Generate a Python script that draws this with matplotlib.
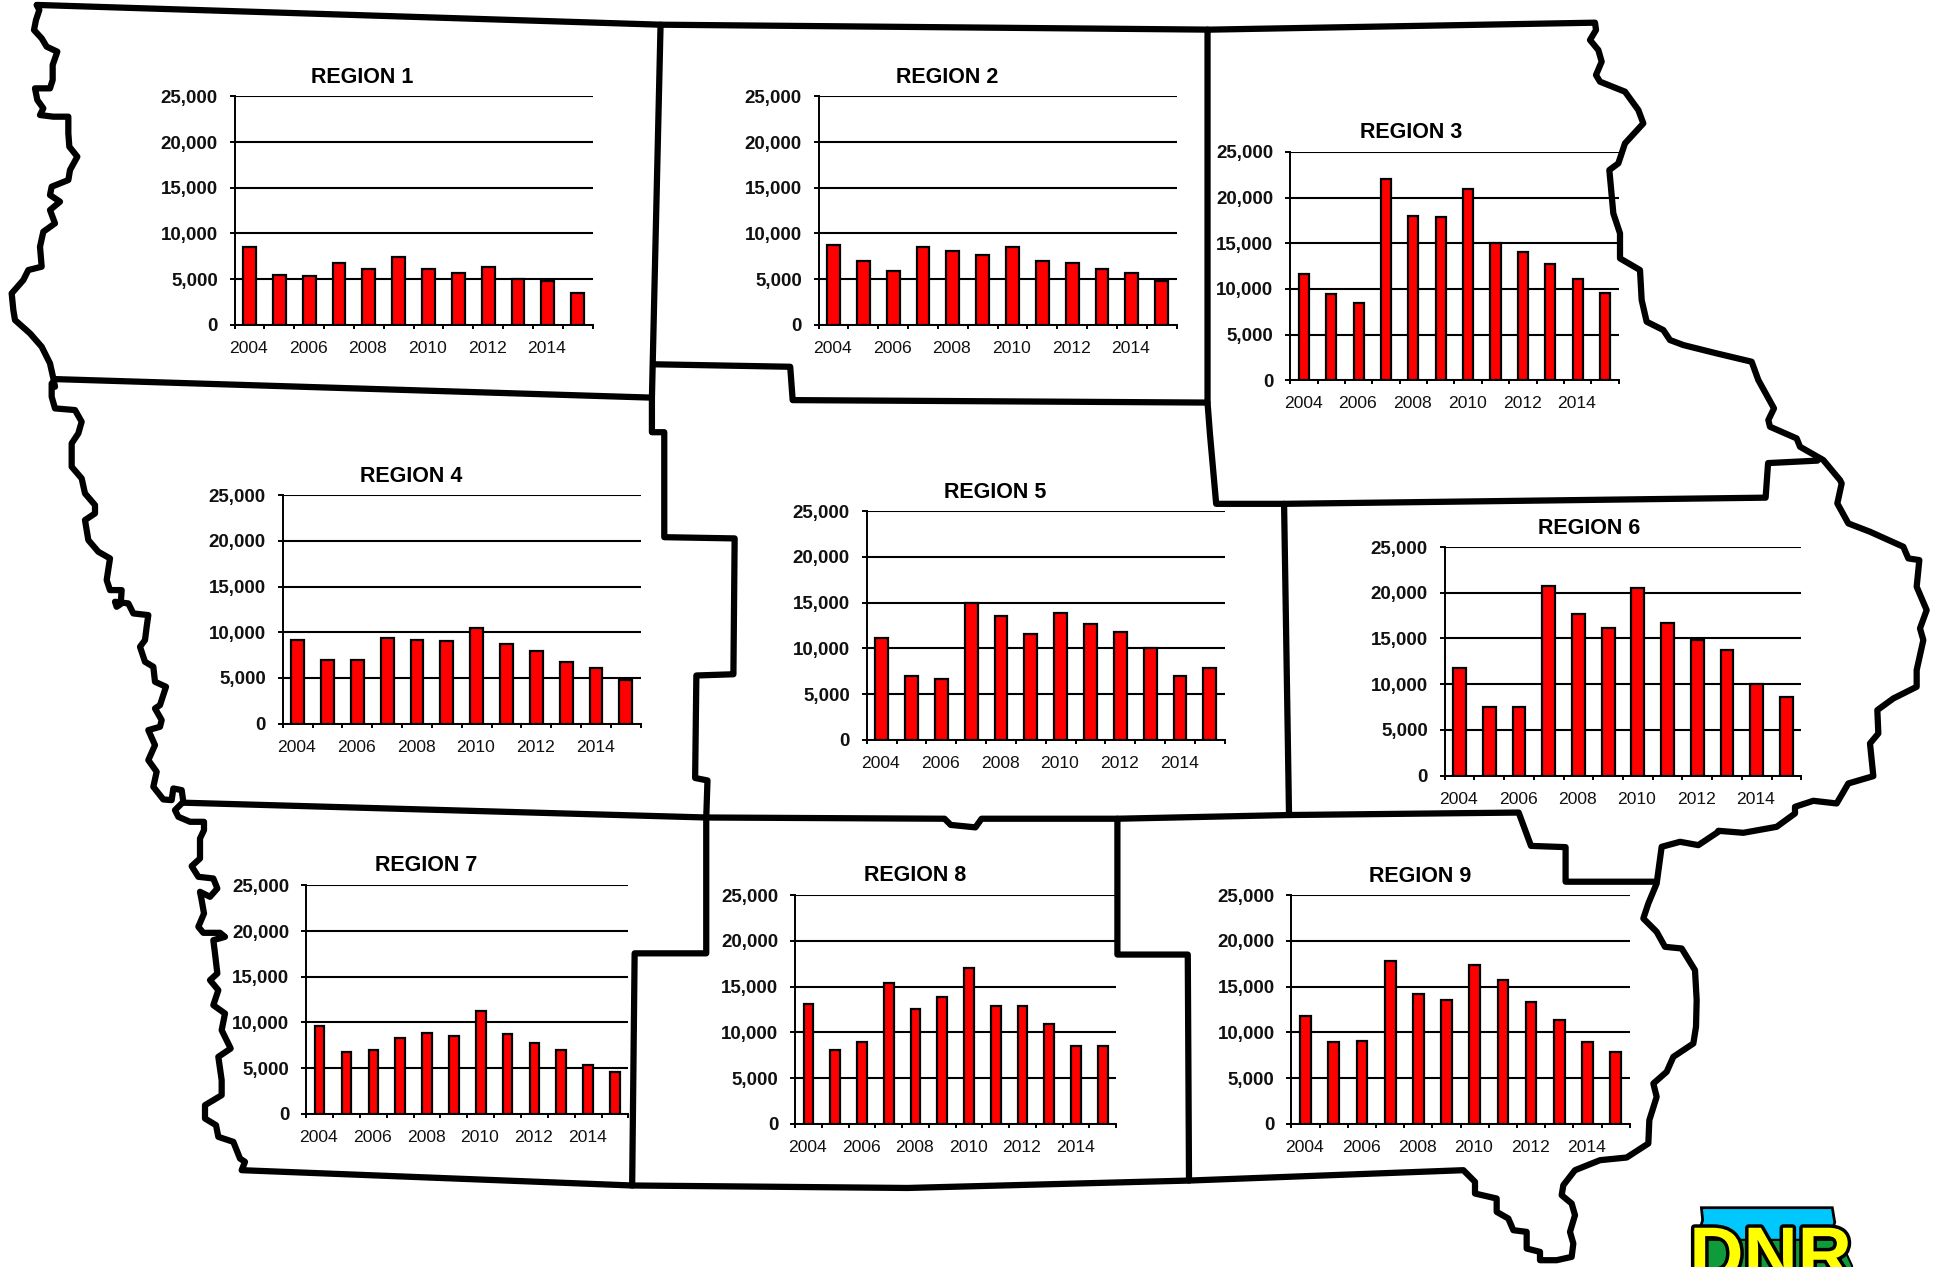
import matplotlib
matplotlib.use("Agg")
import matplotlib.pyplot as plt
import matplotlib.patheffects as pe
import numpy as np

plt.rcParams['font.family'] = ['Liberation Sans', 'DejaVu Sans']

years = list(range(2004, 2016))
y_ticks = [0, 5000, 10000, 15000, 20000, 25000]
region_names = [f"REGION {i}" for i in range(1, 10)]

region1 = [8500, 5500, 5300, 6800, 6100, 7400, 6100, 5700, 6300, 5000, 4800, 3500]
region2 = [8700, 7000, 5900, 8500, 8100, 7600, 8500, 7000, 6800, 6100, 5700, 4800]
region3 = [11600, 9400, 8500, 22000, 18000, 17900, 20900, 15000, 14000, 12700, 11100, 9600]
region4 = [9200, 7000, 7000, 9400, 9200, 9000, 10500, 8700, 8000, 6800, 6100, 4800]
region5 = [11100, 7000, 6600, 15000, 13500, 11600, 13900, 12700, 11800, 10000, 7000, 7900]
region6 = [11800, 7500, 7500, 20700, 17700, 16100, 20500, 16700, 14800, 13700, 10000, 8600]
region7 = [9600, 6800, 7000, 8300, 8900, 8500, 11300, 8700, 7800, 7000, 5400, 4600]
region8 = [13100, 8100, 8900, 15400, 12600, 13900, 17000, 12900, 12900, 10900, 8500, 8500]
region9 = [11800, 8900, 9100, 17800, 14200, 13500, 17400, 15700, 13300, 11300, 8900, 7800]
values = [region1, region2, region3, region4, region5, region6, region7, region8, region9]

VW, VH = 1568.0, 1026.0   # layout units
S = 1936.0 / VW

# panel boxes: left, right, top, bottom
boxes = [(190, 480, 78, 263), (663, 953, 78, 263), (1045, 1311, 123, 308),
         (229, 519, 401, 586), (702, 992, 414, 599), (1170, 1459, 443, 628),
         (248, 509, 717, 902), (644, 904, 725, 910), (1046, 1320, 725, 910)]
bar_widths = [0.43, 0.43, 0.37, 0.43, 0.43, 0.43, 0.36, 0.36, 0.38]
title_pos = [(293, 63), (767, 63), (1143, 107), (333, 386), (806, 399),
             (1287, 428), (345, 701), (741, 709), (1150, 710)]


def seg(x0, y0, pts):
    """Outline points traced at 3x from the crop whose corner is (x0, y0)."""
    return [((x0 + a / 3) / S, (y0 + b / 3) / S) for a, b in pts]


west1 = seg(0, 0, [(110, 15), (118, 30), (108, 60), (102, 90), (125, 115), (140, 140), (172, 155), (158, 195),
                   (158, 240), (150, 265), (105, 265), (112, 300), (130, 325), (120, 345), (160, 350), (205, 350),
                   (205, 400), (208, 440), (232, 470), (210, 510), (205, 540), (155, 560), (150, 585), (180, 605),
                   (150, 630), (165, 670), (130, 695), (120, 740), (125, 800), (85, 810), (70, 840), (35, 880),
                   (40, 930), (45, 960), (90, 1000), (125, 1040), (150, 1090), (160, 1135), (165, 1160)])
west2 = seg(0, 380, [(155, 10), (155, 50), (165, 85), (225, 90), (245, 125), (235, 160), (215, 190), (215, 230),
                     (215, 260), (245, 295), (255, 340), (285, 375), (285, 400), (255, 420), (265, 480), (295, 515),
                     (330, 535), (320, 600), (330, 630), (365, 630), (362, 672), (350, 680), (345, 665), (385, 670),
                     (400, 700), (445, 705), (440, 740), (435, 780), (420, 800), (435, 845), (460, 860), (465, 905),
                     (498, 920), (480, 975), (465, 985), (485, 1020), (480, 1040), (445, 1050), (465, 1095),
                     (445, 1140), (470, 1175), (460, 1220), (490, 1258), (515, 1260), (520, 1225), (545, 1230),
                     (550, 1265)])
west3 = seg(130, 780, [(135, 90), (145, 110), (180, 125), (222, 125), (222, 150), (210, 175), (210, 235), (185, 258),
                       (205, 290), (250, 295), (262, 325), (240, 350), (210, 335), (215, 360), (222, 400), (205, 440),
                       (220, 458), (270, 458), (285, 470), (250, 480), (255, 520), (262, 580), (240, 600), (265, 630),
                       (250, 675), (285, 700), (275, 750), (302, 805), (265, 830), (275, 900), (275, 945), (225, 975),
                       (225, 1015), (258, 1035), (265, 1070), (310, 1085), (330, 1135), (345, 1145), (335, 1170)])
south_edge = [(512, 960), (735, 962), (963, 956)]
south = seg(1440, 820, [(70, 1050), (105, 1085), (105, 1120), (170, 1135), (170, 1175), (205, 1195),
                        (220, 1230), (260, 1235), (260, 1285), (300, 1295), (300, 1320), (350, 1320), (395, 1310),
                        (400, 1270), (390, 1235), (405, 1185), (395, 1150), (365, 1125), (370, 1095), (405, 1050),
                        (480, 1020), (560, 1012), (625, 970), (628, 900), (650, 830), (640, 790), (680, 755),
                        (700, 710), (760, 670), (768, 620), (770, 540), (765, 450), (725, 385), (675, 380), (650, 335),
                        (610, 295), (625, 250), (650, 190), (665, 80), (720, 65), (775, 75), (835, 35)])
east = seg(1600, 440, [(355, 1172), (430, 1178), (530, 1160), (585, 1120), (585, 1100), (640, 1082), (710, 1090),
                       (745, 1030), (820, 1008), (810, 910), (835, 880), (832, 810), (880, 775), (950, 740),
                       (950, 690), (970, 600), (960, 565), (980, 510), (950, 440), (958, 360), (925, 355), (910, 320),
                       (810, 275), (745, 250), (712, 190), (725, 130)])
northeast = seg(1570, 0, [(810, 1440), (760, 1380), (690, 1340), (680, 1315), (600, 1280), (595, 1260), (612, 1225),
                          (565, 1140), (545, 1085), (440, 1060), (340, 1035), (300, 1020), (280, 990), (230, 965),
                          (215, 900), (210, 810), (150, 775), (150, 700), (130, 640), (118, 510), (145, 490),
                          (165, 430), (220, 370), (205, 330), (165, 275), (90, 245), (78, 225), (95, 185), (85, 150),
                          (60, 120), (78, 90), (75, 68)])
north = [(980, 24), (535, 20), (30, 4)]
state = west1 + west2 + west3 + south_edge + south + east + northeast + north

borders = [
    [(45, 307), (528, 322)],
    [(535, 20), (528, 322), (528, 350), (538, 350), (538, 435), (595, 436), (594, 546), (564, 547), (563, 630),
     (573, 632), (572, 662), (572, 772), (514, 772), (512, 960)],
    [(530, 295), (640, 297), (642, 324), (978, 326)],
    [(978, 24), (978, 326), (980, 352), (985, 408), (1040, 408), (1430, 403), (1432, 375), (1472, 373)],
    [(1040, 408), (1044, 660)],
    [(148, 650), (572, 662), (765, 663), (770, 668), (790, 670), (795, 663), (905, 663), (1044, 660), (1230, 658),
     (1240, 685), (1268, 686), (1268, 714), (1340, 714)],
    [(905, 663), (905, 773), (962, 773), (963, 956)],
]
logo_blue = [(1378, 978), (1484, 978), (1486, 990), (1483, 998), (1487, 1012), (1378, 1012), (1376, 998), (1379, 988)]
logo_green = [(1372, 1004), (1488, 1004), (1494, 1012), (1500, 1025), (1500, 1030), (1372, 1030)]

fig = plt.figure(figsize=(19.36, 12.67), dpi=100, facecolor='white')
bg = fig.add_axes([0, 0, 1, 1])
bg.set_xlim(0, VW)
bg.set_ylim(VH, 0)
bg.axis('off')

for line in [state] + borders:
    xs, ys = zip(*line)
    bg.plot(xs, ys, color='black', lw=4.5, solid_joinstyle='round', solid_capstyle='round', zorder=1)

bg.add_patch(plt.Polygon(logo_blue, closed=True, fc='#00c8ff', ec='black', lw=2, zorder=2))
bg.add_patch(plt.Polygon(logo_green, closed=True, fc='#0f9b3a', ec='black', lw=1.5, zorder=3))
bg.text(1434, 1036, 'DNR', fontsize=54, fontweight='bold', color='#ffff00', ha='center', va='baseline',
        zorder=4, path_effects=[pe.withStroke(linewidth=5, foreground='black')])

for name, vals, box, tp, bw in zip(region_names, values, boxes, title_pos, bar_widths):
    l, r, t, b = box
    ax = fig.add_axes([l / VW, 1 - b / VH, (r - l) / VW, (b - t) / VH])
    ax.patch.set_alpha(0)
    x = np.arange(len(years))
    ax.bar(x, vals, width=bw, color='#ff0000', edgecolor='black', linewidth=1.6, zorder=3)
    ax.set_xlim(-0.5, 11.5)
    ax.set_ylim(0, 25000)
    ax.set_yticks(y_ticks)
    ax.set_yticklabels([f"{v:,}" for v in y_ticks], fontsize=13.5, fontweight='bold', color='#111111')
    ax.set_xticks(np.arange(-0.5, 12, 1))
    ax.set_xticklabels([])
    ax.set_xticks(x[::2] - 0.03, minor=True)
    ax.set_xticklabels([str(y) for y in years[::2]], minor=True, fontsize=12.6, color='#111111')
    ax.tick_params(axis='x', which='major', length=3.2, width=1.4, direction='out')
    ax.tick_params(axis='x', which='minor', length=0, pad=11.6)
    ax.tick_params(axis='y', length=3.6, width=1.4, direction='out', pad=8.5)
    ax.yaxis.grid(True, color='black', lw=1.5, zorder=1)
    ax.set_axisbelow(True)
    for s in ('top', 'right'):
        ax.spines[s].set_visible(False)
    for s in ('left', 'bottom'):
        ax.spines[s].set_linewidth(1.4)
    fig.text(tp[0] / VW, 1 - tp[1] / VH, name, fontsize=15.5, fontweight='bold', ha='center', va='center')

fig.savefig('out.png', dpi=100, facecolor='white')
